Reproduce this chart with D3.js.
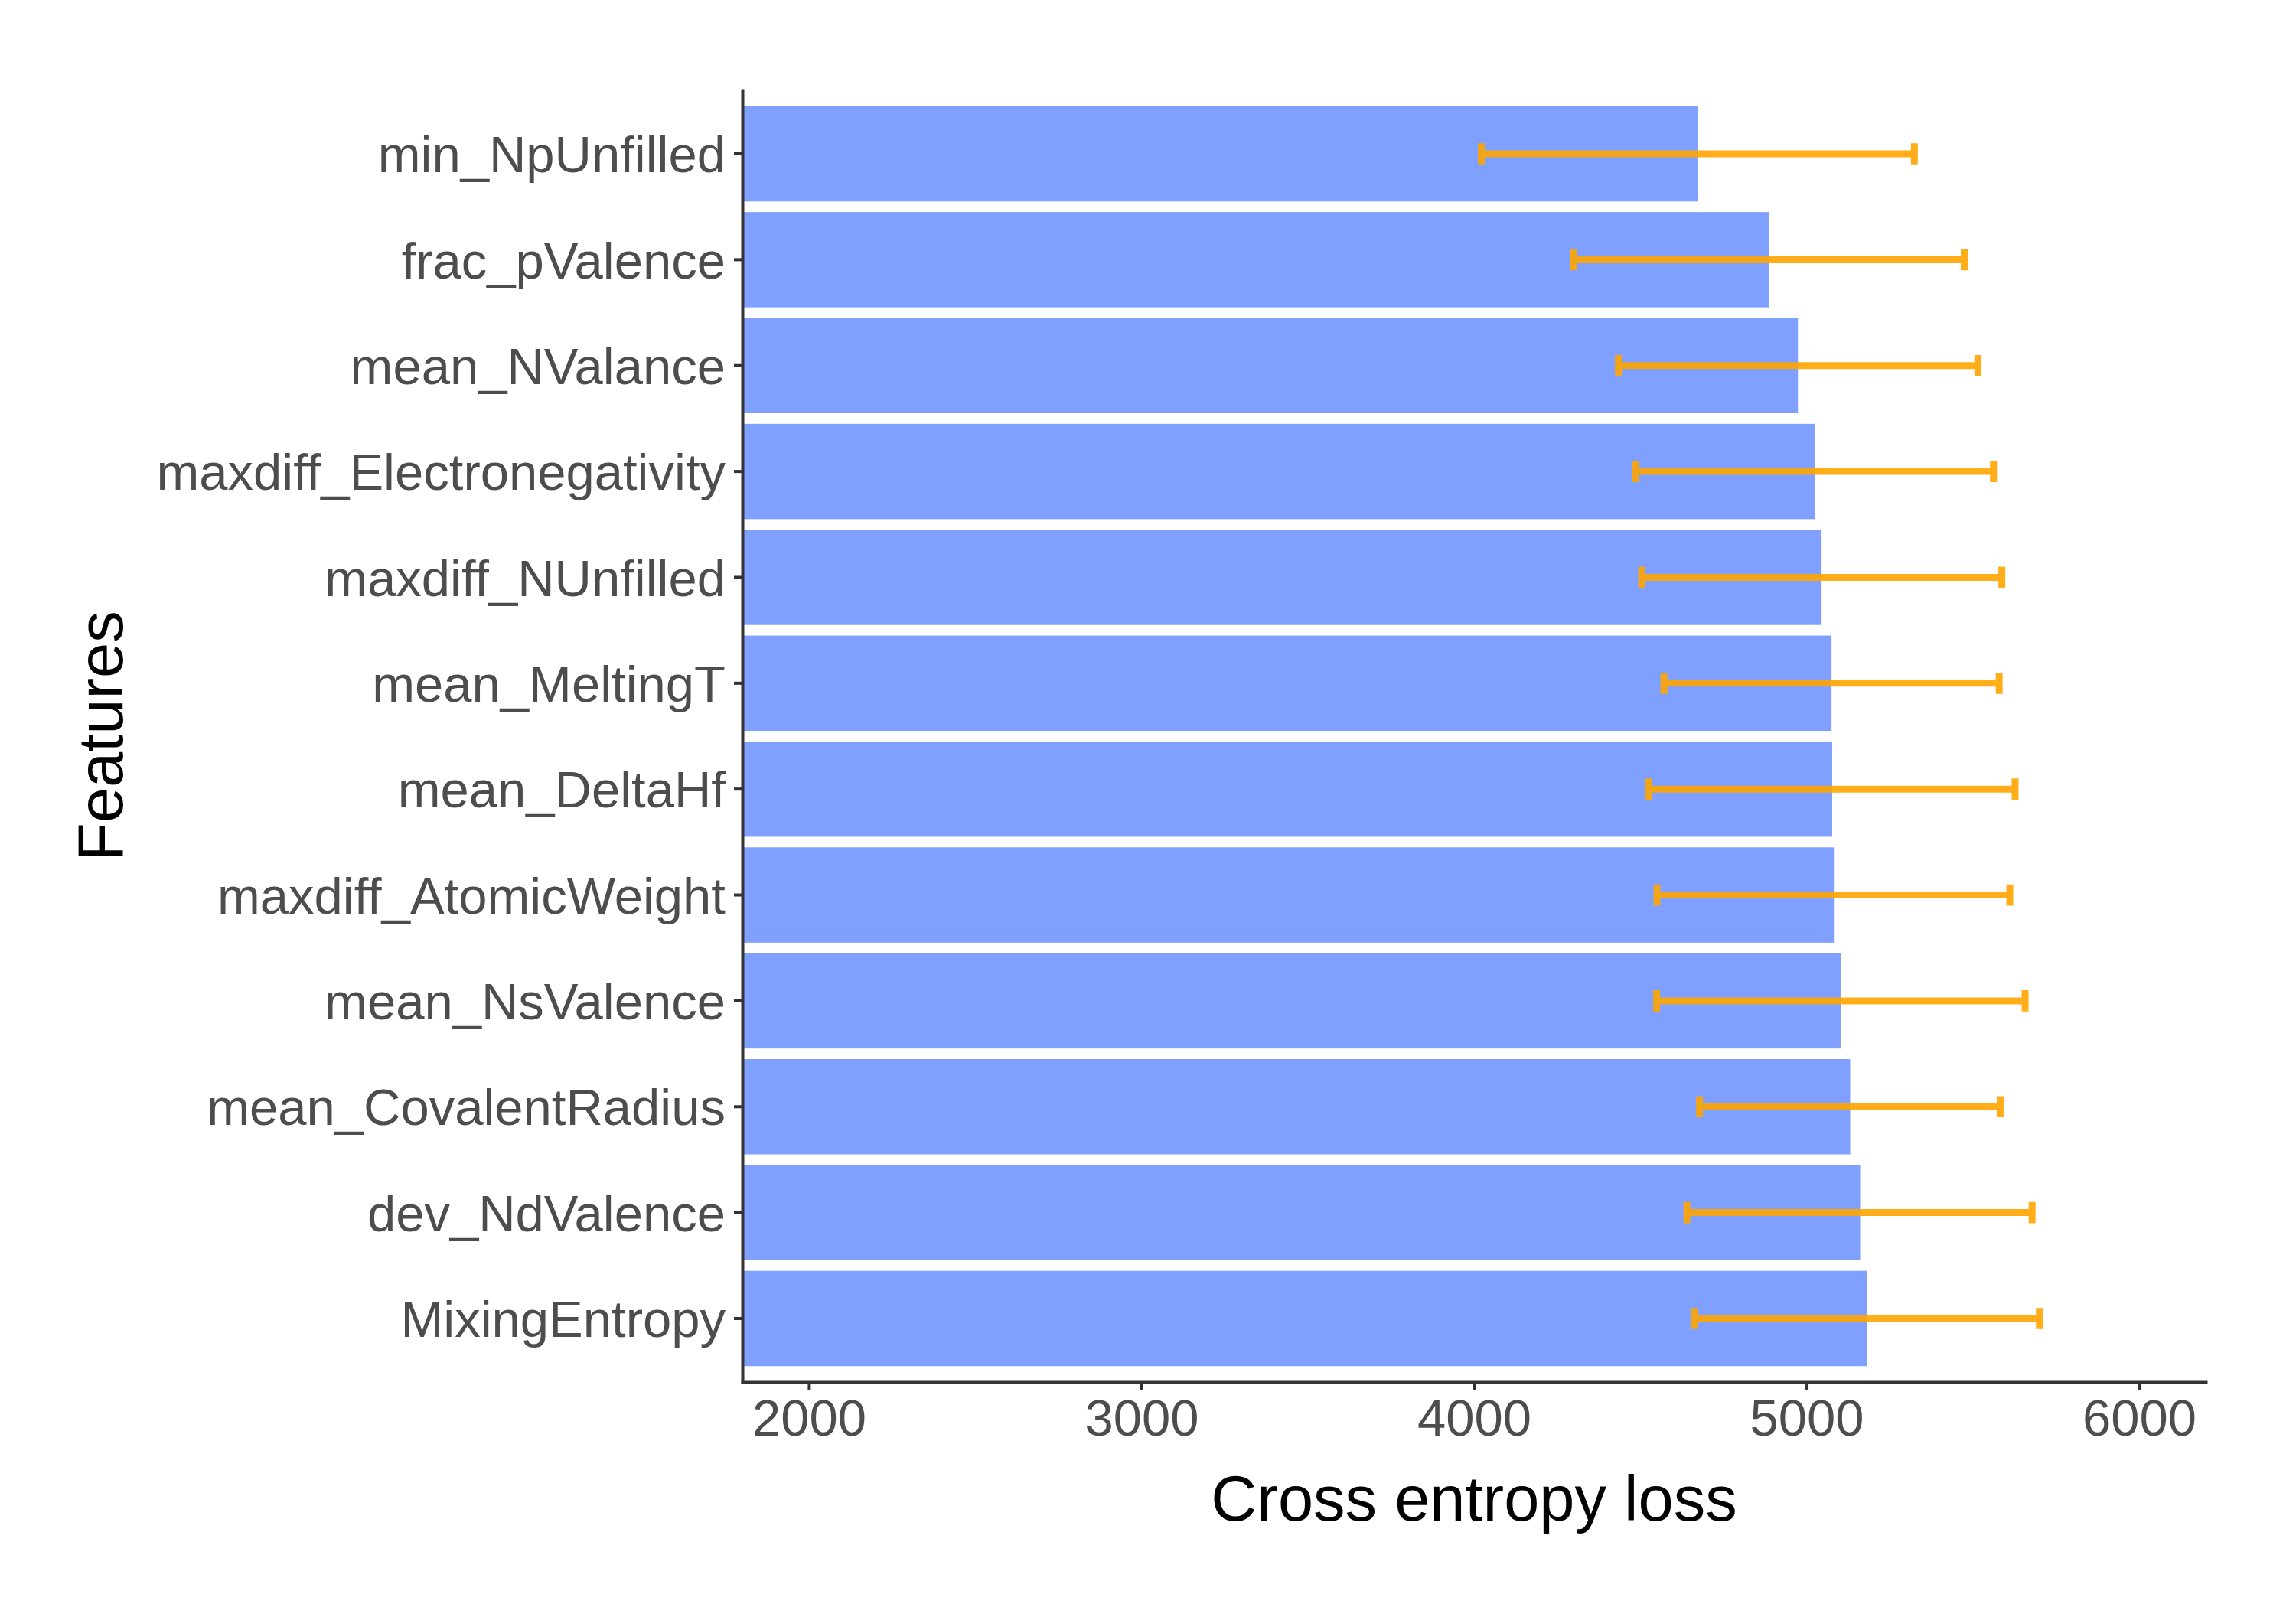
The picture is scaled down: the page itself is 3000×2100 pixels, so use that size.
<!DOCTYPE html>
<html>
<head>
    <meta charset='utf-8'>
    <title>Feature importance</title>
    <style>
    body {
      margin: 0;
      background: #fff;
      font-family: 'Liberation Sans', Arial, sans-serif;
    }
    </style>
    <script src='https://d3js.org/d3.v7.min.js'></script>
</head>
<body>
<div id="container"></div>
<script>
// ******* Data *******
const features = ["min_NpUnfilled", "frac_pValence", "mean_NValance",
                  "maxdiff_Electronegativity", "maxdiff_NUnfilled", "mean_MeltingT",
                  "mean_DeltaHf", "maxdiff_AtomicWeight", "mean_NsValence",
                  "mean_CovalentRadius", "dev_NdValence", "MixingEntropy"];
const loss  = [4673, 4887, 4974, 5025, 5045, 5075, 5077, 5082, 5103, 5131, 5161, 5181];
const lower = [4022, 4299, 4434, 4485, 4504, 4571, 4526, 4550, 4549, 4678, 4640, 4662];
const upper = [5324, 5474, 5515, 5562, 5587, 5579, 5627, 5611, 5657, 5582, 5678, 5700];
const xTicks = [2000, 3000, 4000, 5000, 6000];

const rows = features.map((f, i) => ({feature: f, loss: loss[i], lo: lower[i], hi: upper[i]}));

// ******* Constants *******
const width = 3000,
      height = 2100,
      panel = {left: 970, right: 2882, top: 118, bottom: 1806},
      tickFont = 67,
      titleFont = 83;

// ******* Scales *******
var x = d3.scaleLinear()
    .domain([1800, 6200])
    .range([panel.left, panel.right]);

// ggplot style: bar width 0.9, 0.6 units of padding at each end
var y = d3.scaleBand()
    .domain(features)
    .range([panel.top, panel.bottom])
    .paddingInner(0.1)
    .paddingOuter(0.15);

// ******* SVG *******
var svg = d3.select("#container").append("svg")
    .attr("width", width)
    .attr("height", height)
    .style("display", "block");

svg.append("rect")
    .attr("width", width)
    .attr("height", height)
    .attr("fill", "white");

// ******* Bars *******
svg.selectAll("rect.bar")
    .data(rows)
    .enter()
    .append("rect")
    .attr("class", "bar")
    .attr("x", x(x.domain()[0]))
    .attr("y", d => y(d.feature))
    .attr("width", d => x(d.loss) - x(x.domain()[0]))
    .attr("height", y.bandwidth())
    .attr("fill", "#80a0ff");

// ******* Error bars *******
const capHalf = y.step() * 0.1;
svg.selectAll("path.err")
    .data(rows)
    .enter()
    .append("path")
    .attr("class", "err")
    .attr("d", function(d) {
        var cy = y(d.feature) + y.bandwidth() / 2;
        return "M" + x(d.lo) + "," + (cy - capHalf) + "V" + (cy + capHalf) +
               "M" + x(d.lo) + "," + cy + "H" + x(d.hi) +
               "M" + x(d.hi) + "," + (cy - capHalf) + "V" + (cy + capHalf);
    })
    .attr("fill", "none")
    .attr("stroke", "orange")
    .attr("stroke-opacity", 0.9)
    .attr("stroke-width", 9);

// ******* Axes *******
var xAxis = svg.append("g")
    .attr("transform", "translate(0," + panel.bottom + ")")
    .call(d3.axisBottom(x).tickValues(xTicks).tickFormat(d3.format("d"))
          .tickSize(11).tickSizeOuter(0).tickPadding(11));

var yAxis = svg.append("g")
    .attr("transform", "translate(" + panel.left + ",0)")
    .call(d3.axisLeft(y).tickSize(11).tickSizeOuter(0).tickPadding(11));

[xAxis, yAxis].forEach(function(g) {
    g.select(".domain").attr("stroke", "#333").attr("stroke-width", 4)
        .attr("stroke-linecap", "square");
    g.selectAll(".tick line").attr("stroke", "#333").attr("stroke-width", 4);
    g.selectAll(".tick text")
        .attr("fill", "#4d4d4d")
        .attr("font-size", tickFont)
        .attr("font-family", "'Liberation Sans', Arial, sans-serif");
});
yAxis.selectAll(".tick text").attr("dy", "0.36em");

// ******* Axis titles *******
svg.append("text")
    .attr("x", (panel.left + panel.right) / 2)
    .attr("y", 1987)
    .attr("text-anchor", "middle")
    .attr("font-size", titleFont)
    .attr("fill", "black")
    .text("Cross entropy loss");

svg.append("text")
    .attr("transform", "translate(160," + (panel.top + panel.bottom) / 2 + ") rotate(-90)")
    .attr("text-anchor", "middle")
    .attr("font-size", titleFont)
    .attr("fill", "black")
    .text("Features");
</script>
</body>
</html>
